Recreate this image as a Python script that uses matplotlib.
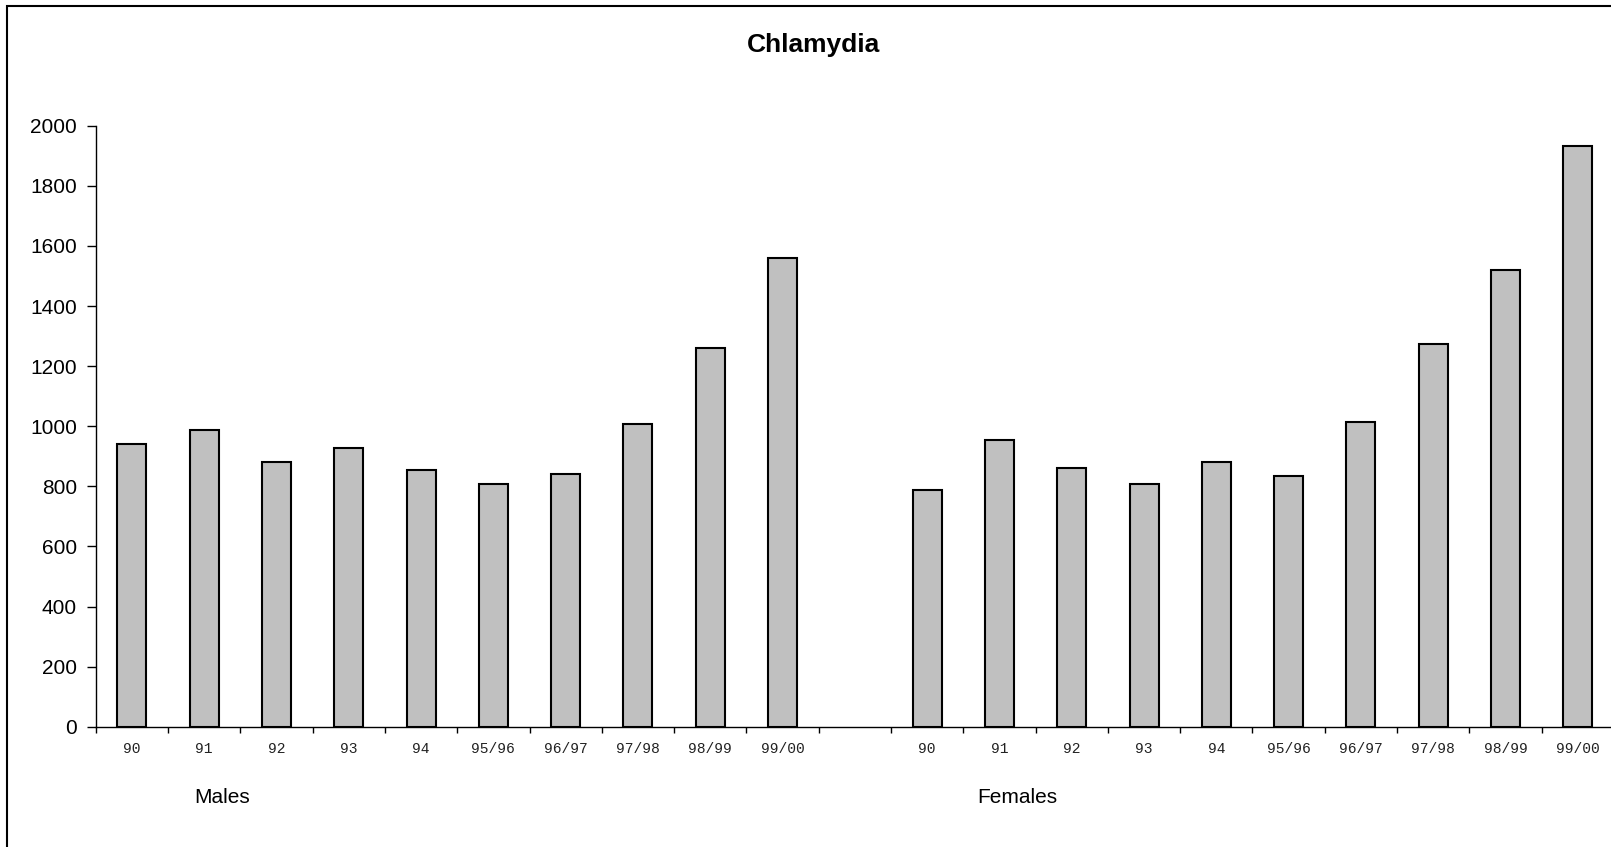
import matplotlib
matplotlib.use("Agg")
import matplotlib.pyplot as plt
from matplotlib.patches import Rectangle
import numpy as np

title = "Chlamydia"
years = ["90", "91", "92", "93", "94", "95/96", "96/97", "97/98", "98/99", "99/00"]
males = [940, 987, 882, 927, 854, 808, 841, 1008, 1260, 1560]
females = [787, 955, 862, 808, 881, 834, 1014, 1273, 1520, 1932]
group_labels = ["Males", "Females"]

categories = years + [""] + years
values = males + [0] + females
has_bar = [True] * len(males) + [False] + [True] * len(females)

W, H = 1611, 847
fig = plt.figure(figsize=(W / 100, H / 100), dpi=100)
fig.patch.set_facecolor("white")

left_px, right_px, bottom_px, top_px = 95.7, 1614.0, 726.7, 125.7
ax = fig.add_axes([left_px / W, (H - bottom_px) / H,
                   (right_px - left_px) / W, (bottom_px - top_px) / H])

x = np.arange(len(categories))
xs = [xi for xi, h in zip(x, has_bar) if h]
vs = [v for v, h in zip(values, has_bar) if h]
ax.bar(xs, vs, width=0.40, color="#C0C0C0", edgecolor="black", linewidth=1.5, zorder=3)

ax.set_xlim(-0.5, len(categories) - 0.5)
ax.set_ylim(0, 2000)
ax.set_yticks(np.arange(0, 2001, 200))
ax.tick_params(axis="y", direction="out", length=6.5, width=1, pad=7,
               labelsize=15, labelcolor="black")
for lab in ax.get_yticklabels():
    lab.set_fontfamily("Liberation Sans")

# boundary ticks (major) with no labels, category labels on minor ticks
ax.set_xticks(np.arange(-0.5, len(categories), 1.0))
ax.set_xticklabels([])
ax.tick_params(axis="x", which="major", direction="out", length=4, width=1)
ax.set_xticks(x, minor=True)
ax.set_xticklabels(categories, minor=True, fontfamily="Liberation Mono",
                   fontsize=10.5, color="#222222")
ax.tick_params(axis="x", which="minor", length=0, pad=11)

for s in ["top", "right"]:
    ax.spines[s].set_visible(False)
for s in ["left", "bottom"]:
    ax.spines[s].set_linewidth(1.0)
    ax.spines[s].set_color("black")

fig.text(814 / W, 1 - 45 / H, title, ha="center", va="center",
         fontsize=19, fontweight="bold", fontfamily="Liberation Sans")
fig.text(222 / W, 1 - 797 / H, group_labels[0], ha="center", va="center",
         fontsize=15, fontfamily="Liberation Sans")
fig.text(1017 / W, 1 - 797 / H, group_labels[1], ha="center", va="center",
         fontsize=15, fontfamily="Liberation Sans")

border = Rectangle((7.3 / W, -0.1), 2.0, (H - 6.3) / H + 0.1,
                   transform=fig.transFigure, fill=False,
                   edgecolor="black", linewidth=1.5)
fig.add_artist(border)

fig.savefig("out.png", dpi=100, facecolor="white")
